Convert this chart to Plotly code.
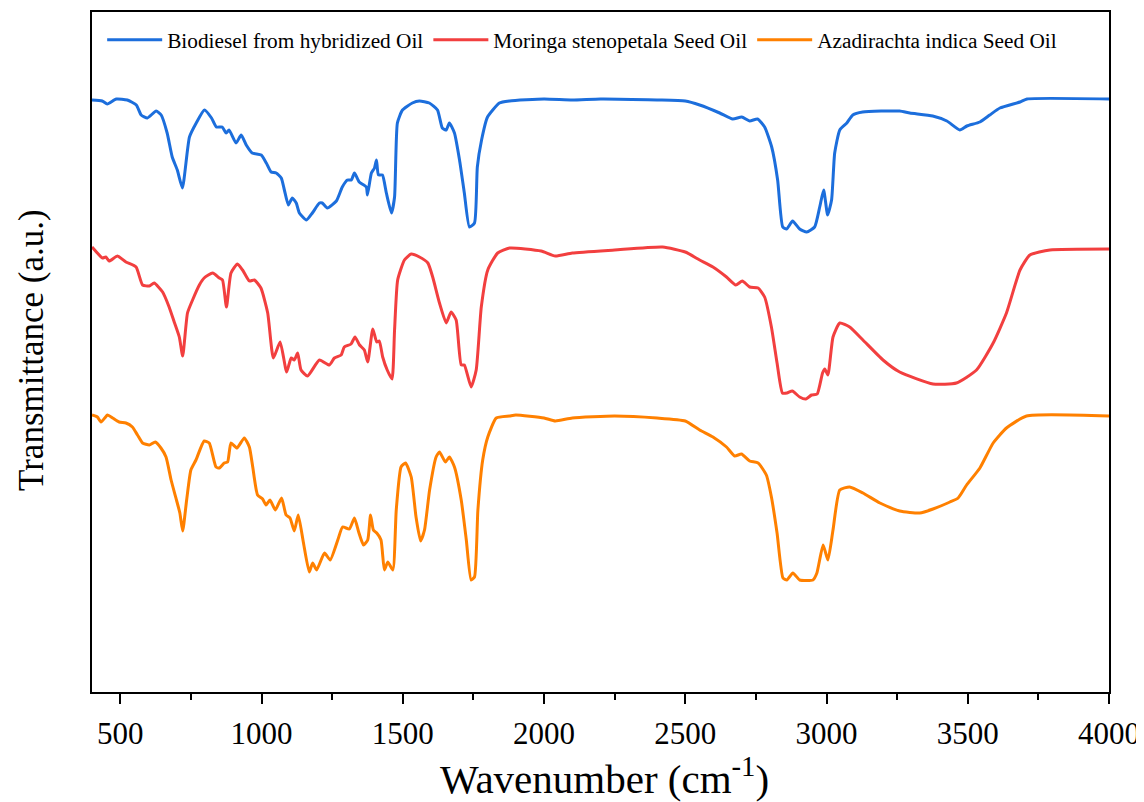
import plotly.graph_objects as go

# ---------------- data ----------------
blue_wn = [400, 436, 454, 486, 525, 557, 574, 596, 627, 645, 666, 684, 702, 720, 745, 769, 798, 823, 840, 861,
           875, 885, 910, 928, 946, 967, 999, 1017, 1034, 1052, 1070, 1081, 1095, 1109, 1123, 1134, 1159, 1180,
           1205, 1215, 1233, 1265, 1286, 1304, 1318, 1329, 1346, 1371, 1375, 1389, 1400, 1407, 1414, 1428, 1442,
           1460, 1471, 1481, 1499, 1534, 1559, 1594, 1623, 1640, 1654, 1665, 1683, 1701, 1718, 1736, 1754, 1764,
           1779, 1800, 1842, 1878, 2000, 2100, 2200, 2400, 2500, 2551, 2622, 2668, 2700, 2728, 2756, 2781, 2806,
           2827, 2845, 2859, 2880, 2905, 2930, 2958, 2976, 2990, 3004, 3018, 3029, 3047, 3072, 3093, 3128, 3259,
           3295, 3376, 3426, 3472, 3497, 3543, 3578, 3614, 3685, 3710, 4000]
blue_t = [59.2, 59.1, 58.8, 59.3, 59.2, 58.7, 57.7, 57.4, 58.1, 57.7, 55.9, 53.5, 52.2, 50.4, 55.5, 56.9, 58.2,
          57.4, 56.5, 56.5, 55.9, 56.2, 54.9, 55.7, 54.7, 53.9, 53.7, 52.9, 52.0, 51.9, 51.4, 50.2, 48.7, 49.4,
          48.9, 47.9, 47.2, 47.9, 48.9, 48.9, 48.4, 49.1, 50.5, 51.2, 51.2, 51.9, 51.0, 50.5, 49.7, 51.9, 52.4,
          53.2, 51.7, 51.7, 49.9, 47.9, 49.5, 56.9, 58.2, 58.9, 59.1, 58.9, 58.2, 56.4, 56.2, 56.9, 55.9, 53.2,
          49.9, 46.5, 46.9, 52.5, 55.2, 57.5, 58.9, 59.1, 59.3, 59.2, 59.3, 59.2, 59.1, 58.7, 57.9, 57.3, 57.5,
          57.1, 57.3, 56.5, 54.5, 51.2, 46.5, 46.3, 47.1, 46.3, 46.0, 46.5, 48.5, 50.2, 47.7, 49.2, 53.9, 56.2,
          56.9, 57.7, 58.0, 58.1, 57.9, 57.6, 57.1, 56.2, 56.6, 57.0, 57.7, 58.4, 59.0, 59.3, 59.3]

red_wn = [400, 419, 437, 449, 461, 490, 520, 556, 579, 603, 620, 650, 673, 691, 709, 721, 738, 756, 780, 797,
          827, 851, 862, 876, 892, 915, 933, 957, 975, 998, 1022, 1042, 1066, 1089, 1105, 1116, 1128, 1140, 1163,
          1205, 1240, 1258, 1282, 1293, 1317, 1331, 1347, 1364, 1376, 1394, 1408, 1417, 1429, 1445, 1462, 1471,
          1482, 1506, 1530, 1559, 1589, 1606, 1630, 1654, 1671, 1689, 1707, 1718, 1742, 1760, 1778, 1801, 1836,
          1878, 1990, 2040, 2100, 2250, 2420, 2500, 2551, 2598, 2646, 2679, 2702, 2728, 2758, 2781, 2805, 2825,
          2844, 2860, 2879, 2905, 2927, 2947, 2967, 2986, 2994, 3005, 3023, 3047, 3082, 3129, 3200, 3259, 3377,
          3460, 3531, 3590, 3637, 3685, 3720, 3791, 4000]
red_t = [44.5, 43.9, 43.4, 43.5, 43.1, 43.6, 43.0, 42.5, 40.7, 40.6, 40.9, 40.0, 38.5, 37.0, 35.5, 33.6, 37.9,
         39.2, 40.7, 41.4, 41.9, 41.4, 41.2, 38.5, 41.9, 42.8, 42.2, 41.1, 41.2, 40.4, 37.9, 33.4, 35.0, 32.0,
         33.4, 33.2, 33.9, 32.2, 31.6, 33.2, 32.7, 33.4, 33.7, 34.5, 34.8, 35.5, 34.7, 34.2, 33.0, 36.3, 35.0,
         35.1, 33.5, 32.2, 31.3, 36.2, 41.2, 43.2, 43.8, 43.5, 42.9, 41.5, 38.9, 36.9, 38.0, 37.2, 32.7, 32.7,
         30.5, 32.2, 38.5, 42.2, 43.9, 44.4, 44.1, 43.6, 43.9, 44.2, 44.5, 44.0, 43.2, 42.5, 41.5, 40.7, 41.1,
         40.5, 40.4, 39.5, 36.5, 32.9, 29.9, 29.9, 30.1, 29.5, 29.3, 29.7, 29.8, 31.9, 32.3, 31.7, 35.5, 36.9,
         36.5, 35.2, 33.2, 32.0, 30.8, 30.9, 32.2, 34.9, 37.9, 42.2, 43.7, 44.2, 44.3]

orange_wn = [400, 419, 432, 455, 473, 496, 520, 543, 561, 579, 603, 624, 644, 662, 680, 699, 711, 721, 735, 750,
             768, 797, 815, 839, 851, 868, 880, 892, 913, 939, 957, 969, 986, 1004, 1016, 1030, 1049, 1071, 1087,
             1101, 1116, 1130, 1148, 1169, 1181, 1195, 1223, 1243, 1270, 1287, 1311, 1329, 1344, 1361, 1376, 1386,
             1396, 1408, 1423, 1435, 1447, 1465, 1477, 1494, 1510, 1530, 1547, 1563, 1577, 1595, 1618, 1630, 1651,
             1665, 1683, 1707, 1725, 1742, 1754, 1766, 1783, 1801, 1831, 1878, 1900, 2000, 2040, 2100, 2250, 2400,
             2500, 2551, 2598, 2646, 2675, 2699, 2728, 2758, 2787, 2805, 2825, 2846, 2860, 2881, 2905, 2952, 2966,
             2988, 3005, 3023, 3047, 3082, 3129, 3189, 3259, 3330, 3377, 3437, 3466, 3496, 3543, 3590, 3637, 3708,
             4000]
orange_t = [27.7, 27.5, 27.0, 27.7, 27.4, 27.0, 26.9, 26.5, 25.7, 24.9, 24.7, 25.0, 24.4, 23.5, 21.2, 19.2, 17.9,
            16.1, 19.2, 22.2, 23.2, 25.1, 24.9, 22.5, 22.4, 22.9, 23.0, 24.9, 24.4, 25.4, 24.5, 22.5, 19.7, 19.3,
            18.7, 19.2, 18.2, 19.4, 17.7, 17.4, 16.1, 17.7, 15.0, 12.0, 12.9, 12.2, 13.9, 13.2, 15.2, 16.5, 16.3,
            17.4, 16.0, 14.7, 15.2, 17.7, 16.2, 15.9, 15.2, 12.2, 13.0, 12.2, 18.2, 22.5, 22.9, 21.5, 17.5, 15.1,
            16.2, 20.2, 23.5, 24.0, 23.0, 23.5, 22.5, 19.2, 15.2, 11.2, 11.5, 18.2, 23.2, 25.5, 27.4, 27.6, 27.7,
            27.4, 27.1, 27.4, 27.6, 27.4, 27.1, 26.2, 25.5, 24.5, 23.6, 23.8, 23.1, 22.9, 21.7, 19.5, 15.9, 11.4,
            11.2, 11.9, 11.2, 11.2, 11.9, 14.7, 13.2, 16.2, 20.2, 20.5, 19.9, 18.9, 18.1, 17.9, 18.3, 19.0, 19.4,
            20.7, 22.4, 24.9, 26.4, 27.6, 27.6]

series_names = ["Biodiesel from hybridized Oil", "Moringa stenopetala Seed Oil", "Azadirachta indica Seed Oil"]
series_colors = ["#1C6EDC", "#F23F3F", "#FF8000"]
x_ticks = [500, 1000, 1500, 2000, 2500, 3000, 3500, 4000]
x_minor = [750, 1250, 1750, 2250, 2750, 3250, 3750]

SERIF = "Liberation Serif"

fig = go.Figure()
for wn, t, name, col in zip([blue_wn, red_wn, orange_wn], [blue_t, red_t, orange_t], series_names, series_colors):
    fig.add_trace(go.Scatter(x=wn, y=t, mode="lines", name=name,
                             line=dict(color=col, width=3, shape="spline", smoothing=0.5)))

# the page body adds an 8px offset, so the figure is 8px smaller and margins shifted
fig.update_layout(
    width=1136, height=794,
    margin=dict(l=84, r=35, t=4, b=110, autoexpand=False),
    paper_bgcolor="white", plot_bgcolor="white",
    showlegend=True,
    legend=dict(orientation="h", x=0.01, y=0.989, xanchor="left", yanchor="top",
                font=dict(family=SERIF, size=21.3, color="black"),
                bgcolor="rgba(0,0,0,0)", itemwidth=55, tracegroupgap=0),
    font=dict(family=SERIF, color="black"),
)
fig.update_xaxes(range=[400, 4000], tickmode="array", tickvals=x_ticks,
                 ticktext=[str(v) for v in x_ticks],
                 showline=True, linecolor="black", linewidth=2, mirror=True,
                 ticks="outside", ticklen=10, tickwidth=2, tickcolor="black", ticklabelstandoff=3,
                 minor=dict(tickvals=x_minor, ticks="outside",
                            ticklen=6, tickwidth=2, tickcolor="black"),
                 showgrid=False, zeroline=False, automargin=False,
                 tickfont=dict(family=SERIF, size=31, color="black"))
fig.update_yaxes(range=[0, 68], showline=True, linecolor="black", linewidth=2, mirror=True,
                 showticklabels=False, ticks="", showgrid=False, zeroline=False, automargin=False)

fig.add_annotation(text="Transmittance (a.u.)", xref="paper", yref="paper", x=-0.059, y=0.503,
                   xanchor="center", yanchor="middle", textangle=-90, showarrow=False,
                   font=dict(family=SERIF, size=35, color="black"))
fig.add_annotation(text="Wavenumber (cm<sup>-1</sup>)", xref="paper", yref="paper", x=0.504, y=-0.164,
                   xanchor="center", yanchor="bottom", showarrow=False,
                   font=dict(family=SERIF, size=41, color="black"))

fig.write_html("out.html")
